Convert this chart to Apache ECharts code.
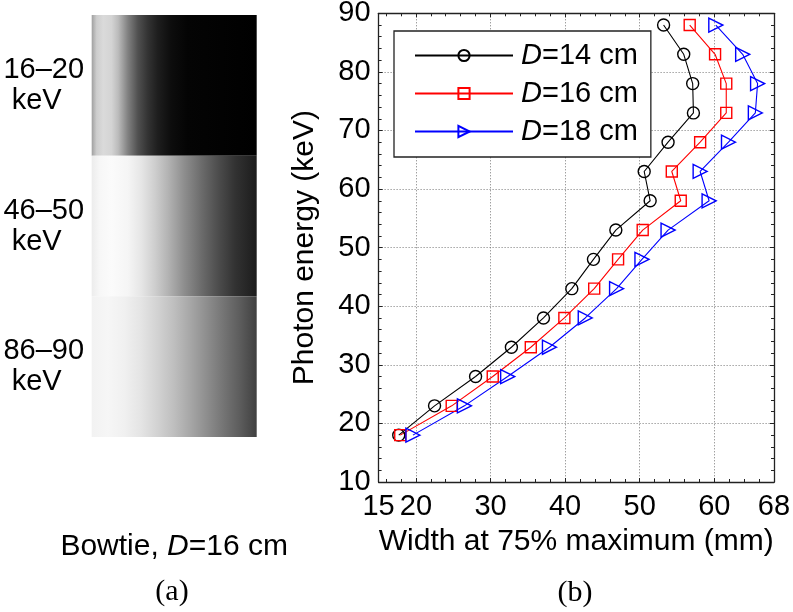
<!DOCTYPE html>
<html><head><meta charset="utf-8">
<script src="https://cdn.jsdelivr.net/npm/echarts@6/dist/echarts.min.js"></script>
<style>html,body{margin:0;padding:0;background:#fff}#c{width:793px;height:612px}</style>
</head><body><div id="c"></div>
<script>
// ---- data ----
const energy = [18, 23, 28, 33, 38, 43, 48, 53, 58, 63, 68, 73, 78, 83, 88];
const widthD14 = [17.7, 22.5, 28.0, 32.8, 37.1, 40.9, 43.8, 46.8, 51.4, 50.6, 53.8, 57.2, 57.1, 55.9, 53.2];
const widthD16 = [17.9, 24.8, 30.3, 35.4, 39.9, 43.9, 47.1, 50.4, 55.5, 54.3, 58.1, 61.6, 61.6, 60.1, 56.7];
const widthD18 = [19.6, 26.5, 32.3, 37.9, 42.7, 46.9, 50.3, 53.8, 59.3, 58.1, 61.9, 65.5, 65.8, 63.8, 60.2];
const diameters = ['14', '16', '18'];
const bandLabels = ['16–20', '46–50', '86–90'];
// grey-level profiles across the bowtie image (position fraction, grey 0-255)
const bandPos1 = [0, 0.03, 0.07, 0.12, 0.16, 0.22, 0.28, 0.34, 0.40, 0.48, 0.58, 1];
const bandGrey1 = [160, 205, 218, 212, 188, 128, 80, 51, 30, 13, 4, 0];
const bandPos2 = [0, 0.05, 0.12, 0.22, 0.30, 0.38, 0.46, 0.56, 0.67, 0.77, 0.87, 1];
const bandGrey2 = [236, 247, 251, 245, 230, 207, 180, 142, 106, 76, 50, 28];
const bandPos3 = [0, 0.1, 0.2, 0.3, 0.4, 0.5, 0.6, 0.7, 0.8, 0.9, 1];
const bandGrey3 = [242, 246, 240, 228, 210, 190, 166, 141, 116, 92, 64];

const bandPos = [bandPos1, bandPos2, bandPos3];
const bandGrey = [bandGrey1, bandGrey2, bandGrey3];
const widths = [widthD14, widthD16, widthD18];
const colors = ['#000000', '#ff0000', '#0000ff'];
const symbols = ['circle', 'rect', 'triangle'];
const symSizes = [12, 11, 14];
const symRot = [0, 0, -90];

const FF = '"Liberation Sans", Arial, sans-serif';
const chart = echarts.init(document.getElementById('c'), null, {renderer: 'canvas'});

const axisCommon = {
  axisLine: {show: true, onZero: false, lineStyle: {color: '#222', width: 1.3}},
  axisTick: {show: true, inside: true, length: 4, lineStyle: {color: '#222', width: 1}},
  minorTick: {show: true, splitNumber: 5, length: 3, lineStyle: {color: '#222', width: 1}}
};
const splitDotted = {show: true, lineStyle: {type: [1, 2], color: '#777', width: 1}};

const series = diameters.map((d, k) => ({
  type: 'line',
  name: 'D=' + d + ' cm',
  xAxisIndex: 0, yAxisIndex: 0,
  data: energy.map((e, i) => [widths[k][i], e]),
  symbol: symbols[k],
  symbolSize: symSizes[k],
  symbolRotate: symRot[k],
  showAllSymbol: true,
  lineStyle: {color: colors[k], width: 1.1},
  itemStyle: {color: 'rgba(255,255,255,0)', borderColor: colors[k], borderWidth: 1.4},
  emphasis: {disabled: true},
  z: 3
}));

series.push({
  type: 'custom',
  xAxisIndex: 2, yAxisIndex: 2,
  data: bandLabels.map((b, i) => [0, i]),
  renderItem: function (params, api) {
    const idx = api.value(1);
    const p = api.coord([0, idx]);
    const s = api.size([1, 1]);
    const stops = bandPos[idx].map((q, j) => ({offset: q, color: 'rgb(' + bandGrey[idx][j] + ',' + bandGrey[idx][j] + ',' + bandGrey[idx][j] + ')'}));
    return {
      type: 'rect',
      shape: {x: p[0], y: p[1] - s[1] / 2, width: s[0], height: s[1]},
      style: {fill: new echarts.graphic.LinearGradient(0, 0, 1, 0, stops)}
    };
  },
  silent: true
});

const option = {
  animation: false,
  backgroundColor: '#fff',
  textStyle: {fontFamily: FF, color: '#000'},
  title: [
    {text: '(a)', left: 167, top: 572, textAlign: 'center', textStyle: {fontFamily: '"Liberation Serif", "Times New Roman", serif', fontSize: 30, fontWeight: 'normal', color: '#000'}},
    {text: '(b)', left: 570, top: 573, textAlign: 'center', textStyle: {fontFamily: '"Liberation Serif", "Times New Roman", serif', fontSize: 30, fontWeight: 'normal', color: '#000'}}
  ],
  grid: [
    {left: 378.6, right: 19, top: 13.3, bottom: 130, show: true, backgroundColor: '#fff', borderWidth: 0, containLabel: false, outerBoundsMode: 'none'},
    {left: 91.7, top: 15, width: 165, height: 422, containLabel: false, outerBoundsMode: 'none'}
  ],
  legend: {
    orient: 'vertical',
    left: 394, top: 31,
    padding: [10, 13, 11, 20],
    itemWidth: 98, itemHeight: 14, itemGap: 9,
    backgroundColor: '#fff', borderColor: '#222', borderWidth: 1.3,
    data: series.slice(0, 3).map(s => s.name),
    formatter: n => n.replace('D=', '{i|D}='),
    textStyle: {fontFamily: FF, fontSize: 29, lineHeight: 28, color: '#000',
      rich: {i: {fontStyle: 'italic', fontFamily: FF, fontSize: 29, lineHeight: 28, color: '#000', padding: [0, 0, 0, 3]}}},
    selectedMode: false
  },
  xAxis: [
    Object.assign({
      gridIndex: 0, type: 'value', min: 15, max: 68, splitNumber: 5, position: 'bottom',
      axisLabel: {fontSize: 29, color: '#000', margin: 10, fontFamily: FF},
      splitLine: splitDotted,
      name: 'Width at 75% maximum (mm)', nameLocation: 'middle', nameGap: 45,
      nameTextStyle: {fontSize: 30, color: '#000', fontFamily: FF}
    }, axisCommon),
    Object.assign({
      gridIndex: 0, type: 'value', min: 15, max: 68, splitNumber: 5, position: 'top',
      axisLabel: {show: false}, splitLine: {show: false}
    }, axisCommon),
    {
      gridIndex: 1, type: 'value', min: 0, max: 1,
      axisLine: {show: false}, axisTick: {show: false}, axisLabel: {show: false}, splitLine: {show: false},
      name: 'Bowtie, {i|D}=16 cm', nameLocation: 'middle', nameGap: 95,
      nameTextStyle: {fontSize: 30, color: '#000', fontFamily: FF,
        rich: {i: {fontStyle: 'italic', fontSize: 30, color: '#000', fontFamily: FF}}}
    }
  ],
  yAxis: [
    Object.assign({
      gridIndex: 0, type: 'value', min: 10, max: 90, interval: 10, position: 'left',
      axisLabel: {fontSize: 29, color: '#000', margin: 8, fontFamily: FF},
      splitLine: splitDotted,
      name: 'Photon energy (keV)', nameLocation: 'middle', nameGap: 59,
      nameTextStyle: {fontSize: 30, color: '#000', fontFamily: FF}
    }, axisCommon),
    Object.assign({
      gridIndex: 0, type: 'value', min: 10, max: 90, interval: 10, position: 'right',
      axisLabel: {show: false}, splitLine: {show: false}
    }, axisCommon),
    {
      gridIndex: 1, type: 'category', data: bandLabels, inverse: true,
      axisLine: {show: false}, axisTick: {show: false}, splitLine: {show: false},
      axisLabel: {
        margin: 48, align: 'center',
        formatter: v => '{a|' + v + '}\n{b|keV}',
        rich: {
          a: {fontSize: 29, lineHeight: 31, color: '#000', fontFamily: FF},
          b: {fontSize: 29, lineHeight: 31, color: '#000', fontFamily: FF, padding: [0, 14, 0, 0]}
        }
      }
    }
  ],
  series: series
};
chart.setOption(option);
</script>
</body></html>
